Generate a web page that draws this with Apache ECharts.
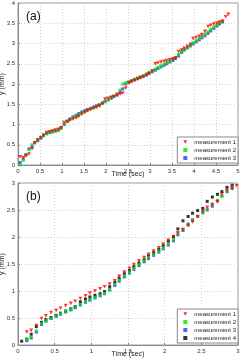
<!DOCTYPE html>
<html><head><meta charset="utf-8">
<script src="https://cdn.jsdelivr.net/npm/echarts@6/dist/echarts.min.js"></script>
<style>html,body{margin:0;padding:0;background:#fff;}#a{width:241px;height:180px;}#b{width:241px;height:181px;}</style>
</head><body><div id="a"></div><div id="b"></div>
<script>
// ---- Panel (a) ----
const timeA = [0.05,0.12,0.18,0.25,0.32,0.38,0.45,0.52,0.58,0.65,0.72,0.78,0.85,0.92,0.98,1.05,1.12,1.18,1.25,1.32,1.38,1.45,1.52,1.58,1.65,1.72,1.78,1.85,1.92,1.98,2.05,2.12,2.18,2.25,2.32,2.38,2.45,2.52,2.58,2.65,2.72,2.78,2.85,2.92,2.98,3.05,3.12,3.18,3.25,3.32,3.38,3.45,3.52,3.58,3.65,3.72,3.78,3.85,3.92,3.98,4.05,4.12,4.18,4.25,4.32,4.38,4.45,4.52,4.58,4.65,4.72,4.78];
const a_meas1 = [0.20,0.18,0.22,0.27,0.40,0.55,0.62,0.68,0.74,0.80,0.82,0.84,0.86,0.88,0.92,1.05,1.07,1.10,1.13,1.16,1.20,1.25,1.30,1.34,1.37,1.40,1.43,1.46,1.52,1.63,1.65,1.67,1.69,1.72,1.75,1.77,1.90,2.03,2.06,2.09,2.12,2.15,2.18,2.22,2.26,2.32,2.50,2.52,2.54,2.56,2.58,2.60,2.62,2.64,2.80,2.84,2.88,2.93,2.98,3.12,3.15,3.18,3.22,3.30,3.42,3.45,3.48,3.50,3.53,3.55,3.66,3.72];
const a_meas2 = [0.00,0.12,0.25,0.38,0.50,0.55,0.62,0.68,0.73,0.78,0.80,0.82,0.84,0.86,0.90,1.02,1.08,1.13,1.17,1.20,1.24,1.28,1.32,1.35,1.38,1.41,1.44,1.47,1.52,1.56,1.61,1.66,1.70,1.76,1.85,2.00,2.03,2.06,2.09,2.12,2.15,2.18,2.21,2.25,2.29,2.33,2.37,2.41,2.45,2.49,2.53,2.57,2.61,2.66,2.73,2.80,2.85,2.90,2.96,3.02,3.07,3.12,3.17,3.23,3.29,3.35,3.41,3.46,3.51,3.55];
const a_meas3 = [0.06,0.15,0.26,0.40,0.45,0.55,0.60,0.66,0.72,0.77,0.80,0.82,0.84,0.86,0.92,1.00,1.08,1.14,1.19,1.23,1.27,1.31,1.34,1.37,1.40,1.43,1.46,1.49,1.53,1.57,1.61,1.65,1.69,1.73,1.80,1.88,2.00,2.04,2.07,2.10,2.13,2.16,2.19,2.22,2.26,2.30,2.34,2.38,2.42,2.46,2.50,2.54,2.58,2.63,2.69,2.78,2.84,2.89,2.94,2.99,3.04,3.09,3.14,3.19,3.25,3.31,3.37,3.43,3.48,3.53];
const xTicksA = [0,5,0.5];
const yTicksA = [0,4,0.5];

// ---- Panel (b) ----
const timeB = [0.05,0.12,0.18,0.25,0.32,0.38,0.45,0.52,0.58,0.65,0.72,0.78,0.85,0.92,0.98,1.05,1.12,1.18,1.25,1.32,1.38,1.45,1.52,1.58,1.65,1.72,1.78,1.85,1.92,1.98,2.05,2.12,2.18,2.25,2.32,2.38,2.45,2.52,2.58,2.65,2.72,2.78,2.85,2.92,2.98];
const b_meas1 = [null,0.24,0.27,0.36,0.49,0.54,0.60,0.64,0.68,0.73,0.77,0.81,0.86,0.91,0.96,1.00,1.04,1.08,1.13,1.19,1.27,1.35,1.42,1.49,1.56,1.62,1.68,1.74,1.80,1.87,1.94,2.01,2.08,2.14,2.21,2.28,2.38,2.47,2.55,2.60,2.65,2.80,2.86,2.90,2.95];
const b_meas2 = [null,0.10,0.14,0.26,0.40,0.45,0.50,0.54,0.58,0.62,0.66,0.70,0.75,0.80,0.84,0.88,0.92,0.96,1.03,1.12,1.20,1.28,1.35,1.42,1.49,1.56,1.62,1.68,1.74,1.80,1.87,1.95,2.06,2.14,2.22,2.30,2.38,2.45,2.52,2.60,2.68,2.76,2.84,2.92];
const b_meas3 = [null,0.08,0.13,0.24,0.38,0.44,0.49,0.53,0.57,0.61,0.65,0.69,0.74,0.79,0.83,0.87,0.91,0.95,1.02,1.10,1.18,1.26,1.33,1.40,1.47,1.54,1.60,1.66,1.72,1.78,1.85,1.93,2.04,2.12,2.24,2.32,2.38,2.45,2.50,2.57,2.67,2.76,2.84,2.90];
const b_meas4 = [0.07,0.11,0.20,0.34,0.42,0.47,0.51,0.55,0.59,0.63,0.67,0.71,0.80,0.85,0.89,0.92,0.95,0.99,1.08,1.16,1.24,1.32,1.38,1.45,1.52,1.58,1.65,1.71,1.77,1.84,1.92,2.00,2.15,2.30,2.38,2.44,2.49,2.53,2.66,2.74,2.79,2.84,2.92,2.96];
const xTicksB = [0,3,0.5];
const yTicksB = [0,3,0.5];

const seriesNames = ['measurement 1','measurement 2','measurement 3','measurement 4'];
const seriesColors = ['#ff0000','#00e600','#3333ff','#000000'];
const TRI = 'path://M0,0L10,0L5,9Z';
const SQ = 'rect';

function pairs(times, ys){
  const out=[];
  ys.forEach((y,i)=>{ if(y!==null && y!==undefined) out.push([times[i], y]); });
  return out;
}
const FONT = 'Liberation Sans, Arial, sans-serif';

function buildOption(label, times, ysList, xt, yt, legendTop, gridBottom){
  const series = ysList.map((ys,k)=>({
    name: seriesNames[k], type:'scatter',
    data: pairs(times, ys),
    symbol: k===0 ? TRI : SQ,
    symbolSize: k===0 ? [4,3.6] : 3,
    itemStyle:{color: seriesColors[k]},
    z: 10-k
  }));
  return {
    animation:false,
    textStyle:{fontFamily:FONT},
    title:{text:label, left:21, top:6, textStyle:{fontSize:12, fontWeight:'normal', color:'#111', fontFamily:FONT}},
    grid:{left:18, right:3, top:3, bottom:gridBottom, show:true, borderColor:'#9a9a9a', borderWidth:1, backgroundColor:'#fff',
      containLabel:false, outerBoundsMode:'none'},
    xAxis:{type:'value', min:xt[0], max:xt[1], interval:xt[2],
      name:'Time (sec)', nameLocation:'middle', nameGap:6, nameMoveOverlap:false,
      nameTextStyle:{fontSize:7, color:'#222', fontFamily:FONT},
      axisLine:{show:true, onZero:false, lineStyle:{color:'#8a8a8a', width:1}},
      axisTick:{show:true, inside:true, length:2, lineStyle:{color:'#8a8a8a'}},
      axisLabel:{fontSize:6, color:'#333', margin:3, fontFamily:FONT},
      splitLine:{show:true, lineStyle:{color:'#d0d0d0', type:[1,2], width:1}}},
    yAxis:{type:'value', min:yt[0], max:yt[1], interval:yt[2],
      name:'y (mm)', nameLocation:'middle', nameGap:12, nameRotate:90, nameMoveOverlap:false,
      nameTextStyle:{fontSize:7, color:'#222', fontFamily:FONT},
      axisLine:{show:true, onZero:false, lineStyle:{color:'#8a8a8a', width:1}},
      axisTick:{show:true, inside:true, length:2, lineStyle:{color:'#8a8a8a'}},
      axisLabel:{fontSize:6, color:'#333', margin:3, fontFamily:FONT},
      splitLine:{show:true, lineStyle:{color:'#d0d0d0', type:[1,2], width:1}}},
    legend:{orient:'vertical', right:3, top:legendTop,
      data: ysList.map((_,k)=>({name:seriesNames[k], icon: k===0?TRI:'rect'})),
      itemWidth:4, itemHeight:4, itemGap:2,
      padding:[2,2,2,6], backgroundColor:'#fff', borderColor:'#888', borderWidth:1, borderRadius:0,
      textStyle:{fontSize:6, lineHeight:6, color:'#222', fontFamily:FONT, padding:[0,0,0,2]}},
    series
  };
}

const ca = echarts.init(document.getElementById('a'), null, {renderer:'canvas'});
ca.setOption(buildOption('(a)', timeA, [a_meas1,a_meas2,a_meas3], xTicksA, yTicksA, 137, 15));
const cb = echarts.init(document.getElementById('b'), null, {renderer:'canvas'});
cb.setOption(buildOption('(b)', timeB, [b_meas1,b_meas2,b_meas3,b_meas4], xTicksB, yTicksB, 129, 16));
</script></body></html>
